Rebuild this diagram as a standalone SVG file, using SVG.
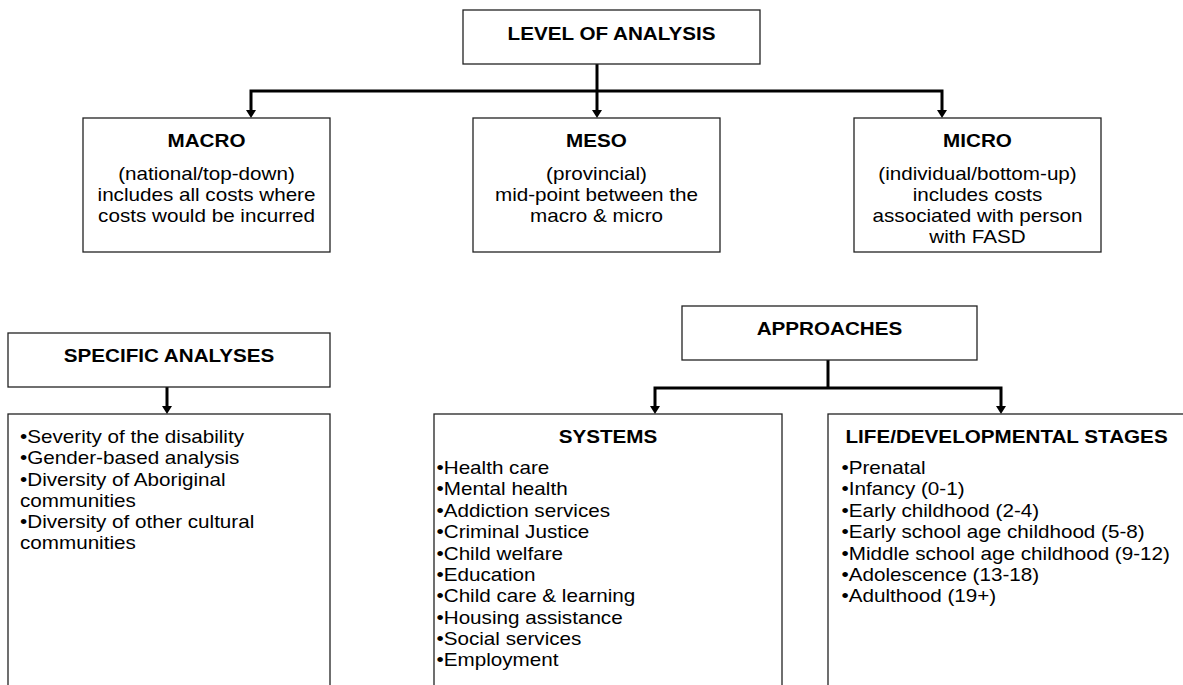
<svg xmlns="http://www.w3.org/2000/svg" width="1183" height="685" viewBox="0 0 1183 685">
<style>
.box{fill:#fff;stroke:#222;stroke-width:1.3}
.t{font-family:"Liberation Sans",Arial,sans-serif;font-size:17.5px;fill:#000}
.b{font-weight:bold}
.c{text-anchor:middle}
.con{fill:none;stroke:#000;stroke-width:3}
</style>
<defs>
<marker id="ah" markerUnits="userSpaceOnUse" markerWidth="10" markerHeight="9" refX="5" refY="8.5" orient="auto-start-reverse" viewBox="0 0 10 9">
<path d="M0,0 L10,0 L5,9 Z" fill="#000" transform="rotate(0)"/>
</marker>
</defs>
<rect width="1183" height="685" fill="#fff"/>
<g id="connectors">
<path class="con" d="M597,64 V111"/>
<path class="con" d="M251,111 V91 H942 V111"/>
<path d="M592,110 L602,110 L597,118 Z M246,110 L256,110 L251,118 Z M937,110 L947,110 L942,118 Z" fill="#000"/>
<path class="con" d="M828,360 V388"/>
<path class="con" d="M655,407 V388 H1001 V407"/>
<path d="M650,406 L660,406 L655,414 Z M996,406 L1006,406 L1001,414 Z" fill="#000"/>
<path class="con" d="M167,387 V407"/>
<path d="M162,406 L172,406 L167,414 Z" fill="#000"/>
</g>
<g id="level">
<rect class="box" x="463" y="10" width="297" height="54"/>
<text class="t b c" transform="translate(611.5,0) scale(1.18,1)"><tspan x="0" y="40">LEVEL OF ANALYSIS</tspan></text>
</g>
<g id="macro">
<rect class="box" x="83" y="118" width="247" height="134"/>
<text class="t c" transform="translate(206.5,0) scale(1.18,1)"><tspan class="b" x="0" y="147">MACRO</tspan><tspan x="0" y="180">(national/top-down)</tspan><tspan x="0" y="201">includes all costs where</tspan><tspan x="0" y="222">costs would be incurred</tspan></text>
</g>
<g id="meso">
<rect class="box" x="473" y="118" width="247" height="134"/>
<text class="t c" transform="translate(596.5,0) scale(1.18,1)"><tspan class="b" x="0" y="147">MESO</tspan><tspan x="0" y="180">(provincial)</tspan><tspan x="0" y="201">mid-point between the</tspan><tspan x="0" y="222">macro &amp; micro</tspan></text>
</g>
<g id="micro">
<rect class="box" x="854" y="118" width="247" height="134"/>
<text class="t c" transform="translate(977.5,0) scale(1.18,1)"><tspan class="b" x="0" y="147">MICRO</tspan><tspan x="0" y="180">(individual/bottom-up)</tspan><tspan x="0" y="201">includes costs</tspan><tspan x="0" y="222">associated with person</tspan><tspan x="0" y="243">with FASD</tspan></text>
</g>
<g id="approaches">
<rect class="box" x="682" y="306" width="295" height="54"/>
<text class="t b c" transform="translate(829.5,0) scale(1.18,1)"><tspan x="0" y="335">APPROACHES</tspan></text>
</g>
<g id="specific">
<rect class="box" x="8" y="333" width="322" height="54"/>
<text class="t b c" transform="translate(169,0) scale(1.18,1)"><tspan x="0" y="362">SPECIFIC ANALYSES</tspan></text>
</g>
<g id="specific-list">
<rect class="box" x="8" y="414" width="322" height="290"/>
<text class="t" transform="translate(20,0) scale(1.18,1)"><tspan x="0" y="443">•Severity of the disability</tspan><tspan x="0" y="464">•Gender-based analysis</tspan><tspan x="0" y="486">•Diversity of Aboriginal</tspan><tspan x="0" y="507">communities</tspan><tspan x="0" y="528">•Diversity of other cultural</tspan><tspan x="0" y="549">communities</tspan></text>
</g>
<g id="systems">
<rect class="box" x="434" y="414" width="348" height="290"/>
<text class="t b c" transform="translate(608,0) scale(1.18,1)"><tspan x="0" y="443">SYSTEMS</tspan></text>
<text class="t" transform="translate(436.5,0) scale(1.18,1)"><tspan x="0" y="474">•Health care</tspan><tspan x="0" y="495.5">•Mental health</tspan><tspan x="0" y="517">•Addiction services</tspan><tspan x="0" y="538.5">•Criminal Justice</tspan><tspan x="0" y="560">•Child welfare</tspan><tspan x="0" y="581">•Education</tspan><tspan x="0" y="602.5">•Child care &amp; learning</tspan><tspan x="0" y="624">•Housing assistance</tspan><tspan x="0" y="645">•Social services</tspan><tspan x="0" y="666.5">•Employment</tspan></text>
</g>
<g id="life">
<rect class="box" x="828" y="414" width="370" height="290"/>
<text class="t b" transform="translate(845.5,0) scale(1.18,1)"><tspan x="0" y="443">LIFE/DEVELOPMENTAL STAGES</tspan></text>
<text class="t" transform="translate(841.5,0) scale(1.18,1)"><tspan x="0" y="474">•Prenatal</tspan><tspan x="0" y="495.5">•Infancy (0-1)</tspan><tspan x="0" y="517">•Early childhood (2-4)</tspan><tspan x="0" y="538.5">•Early school age childhood (5-8)</tspan><tspan x="0" y="560">•Middle school age childhood (9-12)</tspan><tspan x="0" y="581">•Adolescence (13-18)</tspan><tspan x="0" y="602.5">•Adulthood (19+)</tspan></text>
</g>
</svg>
